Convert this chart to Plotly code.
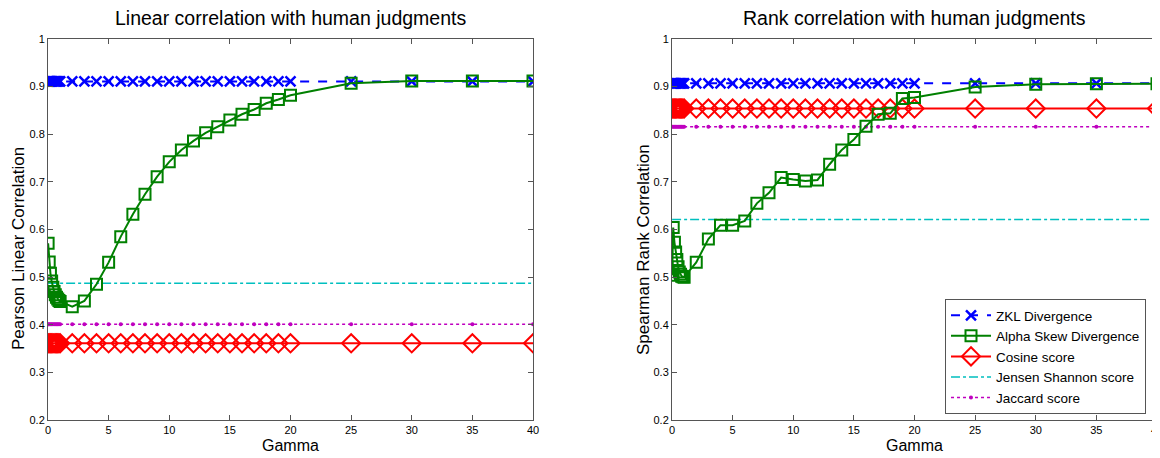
import plotly.graph_objects as go

gamma = [0.01, 0.1, 0.2, 0.3, 0.4, 0.5, 0.6, 0.7, 0.8, 0.9, 1.0,
         2, 3, 4, 5, 6, 7, 8, 9, 10, 11, 12, 13, 14, 15, 16, 17, 18, 19, 20,
         25, 30, 35, 40]

# Linear (Pearson) correlation
lin_zkl = 0.911
lin_alpha = [0.571, 0.532, 0.508, 0.492, 0.479, 0.470, 0.463, 0.458, 0.454, 0.451, 0.449,
             0.438, 0.450, 0.485, 0.531, 0.585, 0.632, 0.674, 0.711, 0.742, 0.767, 0.786,
             0.803, 0.816, 0.830, 0.842, 0.852, 0.865, 0.873, 0.882,
             0.907, 0.912, 0.912, 0.912]
lin_cosine = 0.361
lin_js = 0.487
lin_jaccard = 0.401

# Rank (Spearman) correlation
rank_zkl = 0.907
rank_alpha = [0.504, 0.604, 0.573, 0.553, 0.537, 0.522, 0.511, 0.506, 0.502, 0.501, 0.500,
              0.531, 0.580, 0.609, 0.609, 0.618, 0.655, 0.677, 0.709, 0.705, 0.702, 0.704,
              0.737, 0.767, 0.789, 0.817, 0.842, 0.844, 0.875, 0.877,
              0.899, 0.905, 0.906, 0.906]
rank_cosine = 0.854
rank_js = 0.621
rank_jaccard = 0.816

series_names = ["ZKL Divergence", "Alpha Skew Divergence", "Cosine score",
                "Jensen Shannon score", "Jaccard score"]
titles = ["Linear correlation with human judgments", "Rank correlation with human judgments"]
ytitles = ["Pearson Linear Correlation", "Spearman Rank Correlation"]
xtitle = "Gamma"
x_ticks = [0, 5, 10, 15, 20, 25, 30, 35, 40]
y_ticks = [0.2, 0.3, 0.4, 0.5, 0.6, 0.7, 0.8, 0.9, 1.0]
y_tick_labels = ["0.2", "0.3", "0.4", "0.5", "0.6", "0.7", "0.8", "0.9", "1"]

BLUE = "#0000ff"
GREEN = "#008000"
RED = "#ff0000"
CYAN = "#00bfbf"
MAGENTA = "#bf00bf"
FONT = "Liberation Sans"

fig = go.Figure()

panels = [
    (lin_zkl, lin_alpha, lin_cosine, lin_js, lin_jaccard, "x", "y", False),
    (rank_zkl, rank_alpha, rank_cosine, rank_js, rank_jaccard, "x2", "y2", True),
]

for zkl, alpha, cos, js, jac, xa, ya, show in panels:
    n = len(gamma)
    fig.add_trace(go.Scatter(
        x=gamma, y=[jac] * n, xaxis=xa, yaxis=ya, name=series_names[4], showlegend=show,
        mode="lines+markers", line=dict(color=MAGENTA, width=1.5, dash="dot"),
        marker=dict(symbol="circle", size=4, color=MAGENTA), legendrank=5))
    fig.add_trace(go.Scatter(
        x=[gamma[0], gamma[-1]], y=[js, js], xaxis=xa, yaxis=ya, name=series_names[3],
        showlegend=show, mode="lines", line=dict(color=CYAN, width=1.5, dash="dashdot"),
        legendrank=4))
    fig.add_trace(go.Scatter(
        x=gamma, y=[cos] * n, xaxis=xa, yaxis=ya, name=series_names[2], showlegend=show,
        mode="lines+markers", line=dict(color=RED, width=2),
        marker=dict(symbol="diamond-open", size=14, color=RED, line=dict(width=2, color=RED)),
        legendrank=3))
    fig.add_trace(go.Scatter(
        x=gamma, y=[zkl] * n, xaxis=xa, yaxis=ya, name=series_names[0], showlegend=show,
        mode="lines+markers", line=dict(color=BLUE, width=2, dash="dash"),
        marker=dict(symbol="x-thin-open", size=10, color=BLUE, line=dict(width=2.5, color=BLUE)),
        legendrank=1))
    fig.add_trace(go.Scatter(
        x=gamma, y=alpha, xaxis=xa, yaxis=ya, name=series_names[1], showlegend=show,
        mode="lines+markers", line=dict(color=GREEN, width=2),
        marker=dict(symbol="square-open", size=11, color=GREEN, line=dict(width=2, color=GREEN)),
        legendrank=2))

# the page body adds an 8px margin, so work in page pixels minus that offset
OFF = 8
W, H = 1160 - OFF, 458 - OFF

def px(x):
    return (x - OFF) / W

def py(y):
    return 1 - (y - OFF) / H

axis_common = dict(showgrid=False, zeroline=False, showline=True, mirror="ticks",
                   linecolor="#555555", linewidth=1, ticks="inside", ticklen=5,
                   tickcolor="#555555", automargin=False, ticklabeloverflow="allow",
                   tickfont=dict(family=FONT, size=11, color="black"))

def ann(text, x, y, size, angle=0):
    return dict(text=text, x=px(x), y=py(y), xref="paper", yref="paper",
                showarrow=False, font=dict(family=FONT, size=size, color="black"),
                xanchor="center", yanchor="middle", textangle=angle)

fig.update_layout(
    width=W, height=H,
    margin=dict(l=0, r=0, t=0, b=0, autoexpand=False),
    paper_bgcolor="white", plot_bgcolor="white",
    font=dict(family=FONT, color="black"),
    xaxis=dict(domain=[px(48), px(533)], range=[0, 40], tickvals=x_ticks, anchor="y",
               **axis_common),
    yaxis=dict(domain=[py(420), py(39)], range=[0.2, 1.0], tickvals=y_ticks,
               ticktext=y_tick_labels, anchor="x", **axis_common),
    xaxis2=dict(domain=[px(672), px(1157)], range=[0, 40], tickvals=x_ticks, anchor="y2",
                **axis_common),
    yaxis2=dict(domain=[py(420), py(39)], range=[0.2, 1.0], tickvals=y_ticks,
                ticktext=y_tick_labels, anchor="x2", **axis_common),
    legend=dict(x=px(945), y=py(299), xanchor="left", yanchor="top",
                bgcolor="white", bordercolor="#555555", borderwidth=1,
                font=dict(family=FONT, size=13.5), tracegroupgap=0, itemwidth=40),
    showlegend=True,
    annotations=[
        ann(titles[0], (48 + 533) / 2, 18, 19.5),
        ann(titles[1], (672 + 1157) / 2, 18, 19.5),
        ann(xtitle, (48 + 533) / 2, 445, 16),
        ann(xtitle, (672 + 1157) / 2, 445, 16),
        ann(ytitles[0], 18, 249, 17, -90),
        ann(ytitles[1], 643, 250, 17, -90),
    ],
)

fig.write_html("out.html")
